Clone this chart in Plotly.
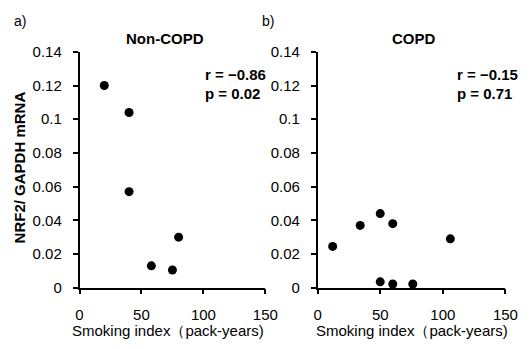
import plotly.graph_objects as go

# Data
noncopd_x = [20, 40, 40, 58, 75, 80]
noncopd_y = [0.120, 0.104, 0.057, 0.013, 0.0105, 0.030]
copd_x = [12, 34, 50, 60, 106, 50, 60, 76]
copd_y = [0.0245, 0.037, 0.044, 0.038, 0.029, 0.0035, 0.0022, 0.0022]
x_ticks = [0, 50, 100, 150]
y_ticks = [0, 0.02, 0.04, 0.06, 0.08, 0.1, 0.12, 0.14]
y_ticklabels = ["0", "0.02", "0.04", "0.06", "0.08", "0.1", "0.12", "0.14"]
panel_titles = ["Non-COPD", "COPD"]
panel_labels = ["a)", "b)"]
stats = [("r = \u22120.86", "p = 0.02"), ("r = \u22120.15", "p = 0.71")]
x_title = "Smoking index（pack-years)"
y_title = "NRF2/ GAPDH mRNA"

W, H = 531, 349
def px(x): return x / W
def py(y): return 1 - y / H

FONT = "Liberation Sans, Arial, sans-serif"
fig = go.Figure()
marker = dict(color="black", size=9)
fig.add_trace(go.Scatter(x=noncopd_x, y=noncopd_y, mode="markers", marker=marker,
                         xaxis="x", yaxis="y", cliponaxis=False, showlegend=False))
fig.add_trace(go.Scatter(x=copd_x, y=copd_y, mode="markers", marker=marker,
                         xaxis="x2", yaxis="y2", cliponaxis=False, showlegend=False))

ydom = [py(293), py(45)]
xdom1 = [px(78), px(270)]
xdom2 = [px(324), px(518)]

xa = dict(range=[0, 150], tickvals=x_ticks, showline=True, linecolor="black", linewidth=1.5,
          ticks="outside", ticklen=5, tickwidth=1.5, tickcolor="black", showgrid=False,
          zeroline=False, ticklabelstandoff=8,
          tickfont=dict(family=FONT, size=15, color="black"))
ya = dict(range=[0, 0.14], tickvals=y_ticks, ticktext=y_ticklabels, showline=True,
          linecolor="black", linewidth=1.5, ticks="outside", ticklen=5, tickwidth=1.5,
          tickcolor="black", showgrid=False, zeroline=False, ticklabelstandoff=8,
          tickfont=dict(family=FONT, size=15, color="black"), domain=ydom)

fig.update_layout(
    width=W, height=H, margin=dict(l=0, r=0, t=0, b=0),
    paper_bgcolor="white", plot_bgcolor="white",
    xaxis=dict(xa, domain=xdom1, anchor="y"),
    yaxis=dict(ya, anchor="x"),
    xaxis2=dict(xa, domain=xdom2, anchor="y2"),
    yaxis2=dict(ya, anchor="x2"),
)

ann = []
def A(text, x, y, size, bold=False, xanchor="center", textangle=0, family=FONT):
    ann.append(dict(text=f"<b>{text}</b>" if bold else text, x=px(x), y=py(y), xref="paper",
                    yref="paper", showarrow=False, xanchor=xanchor, yanchor="middle",
                    textangle=textangle, font=dict(family=family, size=size, color="black")))

A(panel_labels[0], 8, 13, 14, xanchor="left")
A(panel_labels[1], 264, 13, 14, xanchor="left")
A(panel_titles[0], 166, 31, 15, bold=True)
A(panel_titles[1], 424, 31, 15, bold=True)
A(stats[0][0], 206, 69, 15, bold=True, xanchor="left")
A(stats[0][1], 206, 89, 15, bold=True, xanchor="left")
A(stats[1][0], 466, 69, 15, bold=True, xanchor="left")
A(stats[1][1], 466, 89, 15, bold=True, xanchor="left")
A(y_title, 16, 166, 15, bold=True, textangle=-90)
A(x_title, 169, 338, 15)
A(x_title, 421, 338, 15)
fig.update_layout(annotations=ann)

fig.write_html("out.html")
